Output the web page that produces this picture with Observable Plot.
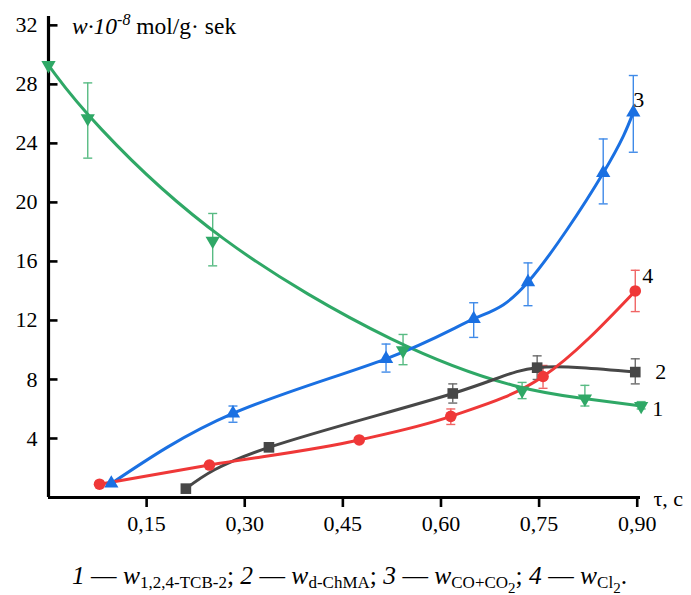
<!DOCTYPE html>
<html><head><meta charset="utf-8">
<script src="https://cdn.jsdelivr.net/npm/d3@7"></script>
<script src="https://cdn.jsdelivr.net/npm/@observablehq/plot@0.6"></script>
<style>
body{margin:0;background:#fff;font-family:"Liberation Serif","Times New Roman",serif;}
#chart{width:691px;height:545px;}
#chart svg text, #chart svg tspan{font-family:"Liberation Serif","Times New Roman",serif !important;}
#cap{width:691px;text-align:center;font-size:25.5px;line-height:30px;margin-top:16px;padding-left:8px;box-sizing:border-box;color:#000;white-space:nowrap;}
#cap sub{font-size:17px;vertical-align:-4px;}
#cap sub sub{font-size:15px;vertical-align:-5px;}
</style></head><body>
<div id="chart"></div>
<div id="cap"><i>1</i> — <i>w</i><sub>1,2,4-TCB-2</sub>; <i>2</i> — <i>w</i><sub>d-ChMA</sub>; <i>3</i> — <i>w</i><sub>CO+CO<sub>2</sub></sub>; <i>4</i> — <i>w</i><sub>Cl<sub>2</sub></sub>.</div>
<script>
// Series 1: w(1,2,4-TCB-2) — green, down triangles
const s1_tau = [0.0, 0.060, 0.251, 0.542, 0.724, 0.820, 0.906];
const s1_w   = [29.3, 25.7, 17.4, 9.97, 7.25, 6.7, 6.2];
const s1_lo  = [null, 23.0, 15.7, 9.0, 6.7, 6.2, 6.0];
const s1_hi  = [null, 28.1, 19.25, 11.05, 7.8, 7.6, 6.5];
// Series 2: w(d-ChMA) — dark gray, squares
const s2_tau = [0.21, 0.337, 0.618, 0.747, 0.897];
const s2_w   = [0.6, 3.4, 7.05, 8.8, 8.5];
const s2_lo  = [null, null, 6.4, 8.0, 7.7];
const s2_hi  = [null, null, 7.7, 9.6, 9.4];
// Series 3: w(CO+CO2) — blue, up triangles
const s3_tau = [0.096, 0.282, 0.516, 0.650, 0.733, 0.848, 0.894];
const s3_w   = [0.95, 5.7, 9.4, 12.1, 14.6, 22.0, 26.1];
const s3_lo  = [null, 5.1, 8.5, 10.85, 13.0, 19.9, 23.4];
const s3_hi  = [null, 6.2, 10.4, 13.2, 15.9, 24.3, 28.6];
// Series 4: w(Cl2) — red, circles
const s4_tau = [0.078, 0.246, 0.475, 0.615, 0.756, 0.897];
const s4_w   = [0.9, 2.2, 3.9, 5.5, 8.2, 14.0];
const s4_lo  = [null, null, null, 4.95, 7.4, 12.6];
const s4_hi  = [null, null, null, 6.0, 8.95, 15.4];

const seriesLabels = ["1", "2", "3", "4"];
const xTicks = [0.15, 0.30, 0.45, 0.60, 0.75, 0.90];
const yTicks = [4, 8, 12, 16, 20, 24, 28, 32];

const mk = (tau, w, lo, hi) => tau.map((t, i) => ({tau: t, w: w[i], lo: lo[i], hi: hi[i]}));
const d1 = mk(s1_tau, s1_w, s1_lo, s1_hi);
const d2 = mk(s2_tau, s2_w, s2_lo, s2_hi);
const d3s = mk(s3_tau, s3_w, s3_lo, s3_hi);
const d4 = mk(s4_tau, s4_w, s4_lo, s4_hi);

const cols = {g: "#2fa866", k: "#474747", b: "#1a70e2", r: "#ef3838"};
const ecols = {g: "#58bb83", k: "#6a6a6a", b: "#3f8ae8", r: "#f06565"};

const capSym = {draw(ctx) { ctx.moveTo(-4.5, 0); ctx.lineTo(4.5, 0); }};
const tickSym = {draw(ctx) { ctx.moveTo(0, 0); ctx.lineTo(9, 0); }};

function errMarks(data, c) {
  const e = data.filter(d => d.lo != null);
  return [
    Plot.ruleX(e, {x: "tau", y1: "lo", y2: "hi", stroke: c, strokeWidth: 1.4}),
    Plot.dot(e, {x: "tau", y: "lo", symbol: capSym, stroke: c, strokeWidth: 1.4, fill: "none", r: 3}),
    Plot.dot(e, {x: "tau", y: "hi", symbol: capSym, stroke: c, strokeWidth: 1.4, fill: "none", r: 3})
  ];
}

const last = a => [a[a.length - 1]];
const FF = "'Liberation Serif', 'Times New Roman', serif";

const plot = Plot.plot({
  width: 691, height: 545,
  marginLeft: 48, marginRight: 51, marginTop: 16, marginBottom: 48,
  x: {domain: [0, 0.905]},
  y: {domain: [0, 32.6]},
  style: `font-family: ${FF}; background: #fff; color: #000;`,
  marks: [
    // axes
    Plot.axisX({ticks: xTicks, tickSize: 10, tickPadding: 8, strokeWidth: 2.6, fontSize: 22, label: null,
      tickFormat: d => d.toFixed(2).replace(".", ",")}),
    Plot.axisY({ticks: yTicks, tickSize: 0, tickPadding: 11, fontSize: 22, label: null, tickFormat: d => String(d)}),
    Plot.dot(yTicks, {x: 0, y: d => d, symbol: tickSym, stroke: "#000", strokeWidth: 2.6, r: 3}),
    Plot.ruleY([0], {stroke: "#000", strokeWidth: 3.2}),
    Plot.ruleX([0], {stroke: "#000", strokeWidth: 3.2}),
    // error bars
    ...errMarks(d1, ecols.g), ...errMarks(d2, ecols.k), ...errMarks(d3s, ecols.b), ...errMarks(d4, ecols.r),
    // curves
    Plot.line(d1, {x: "tau", y: "w", stroke: cols.g, strokeWidth: 3, curve: "basis"}),
    Plot.line(d2, {x: "tau", y: "w", stroke: cols.k, strokeWidth: 3, curve: "natural"}),
    Plot.line(d3s, {x: "tau", y: "w", stroke: cols.b, strokeWidth: 3, curve: "natural"}),
    Plot.line(d4, {x: "tau", y: "w", stroke: cols.r, strokeWidth: 3, curve: "monotone-x"}),
    // markers
    Plot.dot(d1, {x: "tau", y: "w", symbol: "triangle", rotate: 180, r: 5.3, fill: cols.g}),
    Plot.dot(d2, {x: "tau", y: "w", symbol: "square", r: 6, fill: cols.k}),
    Plot.dot(d3s, {x: "tau", y: "w", symbol: "triangle", r: 5.3, fill: cols.b}),
    Plot.dot(d4, {x: "tau", y: "w", symbol: "circle", r: 5.8, fill: cols.r}),
    // series labels
    Plot.text(last(d1), {x: "tau", y: "w", text: () => seriesLabels[0], dx: 11, dy: 3, textAnchor: "start", fontSize: 22}),
    Plot.text(last(d2), {x: "tau", y: "w", text: () => seriesLabels[1], dx: 20, dy: 0, textAnchor: "start", fontSize: 22}),
    Plot.text(last(d3s), {x: "tau", y: "w", text: () => seriesLabels[2], dx: 0, dy: -12, textAnchor: "start", fontSize: 22}),
    Plot.text(last(d4), {x: "tau", y: "w", text: () => seriesLabels[3], dx: 7, dy: -15, textAnchor: "start", fontSize: 22}),
    // x-axis label
    Plot.text(["τ, c"], {x: 0.905, y: 0, text: d => d, dx: 13, dy: 1, textAnchor: "start", fontSize: 22})
  ]
});
document.getElementById("chart").appendChild(plot);

// y-axis title with superscript
const svg = d3.select(plot);
const t = svg.append("text").attr("x", 72).attr("y", 34).attr("font-size", 23.5)
  .attr("text-anchor", "start").attr("fill", "#000");
t.append("tspan").attr("font-style", "italic").text("w·10");
t.append("tspan").attr("font-style", "italic").attr("font-size", 16).attr("dy", -9).text("-8");
t.append("tspan").attr("dy", 9).text(" mol/g· sek");
</script>
</body></html>
